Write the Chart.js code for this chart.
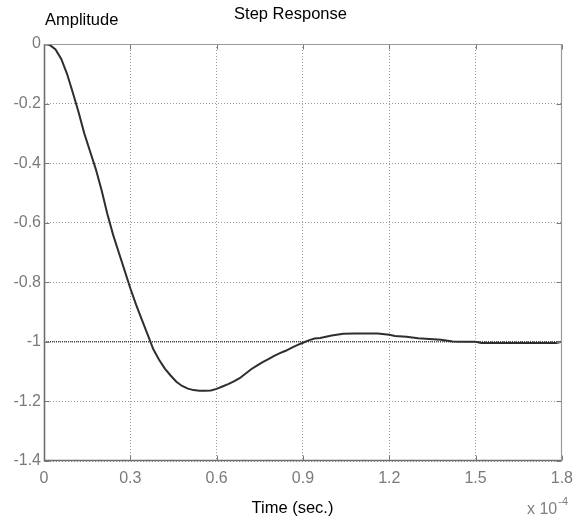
<!DOCTYPE html>
<html>
<head>
<meta charset="utf-8">
<script src="https://cdn.jsdelivr.net/npm/chart.js@4/dist/chart.umd.min.js"></script>
<style>
  html, body { margin: 0; padding: 0; background: #fff; }
  #wrap { width: 581px; height: 520px; position: relative; }
</style>
</head>
<body>
<div id="wrap"><canvas id="c" width="581" height="520"></canvas></div>
<script>
// ---- data (time in units of 1e-4 s) ----
const timeValues = [0, 0.02, 0.04, 0.06, 0.08, 0.10, 0.12, 0.14, 0.16, 0.18, 0.20, 0.22, 0.24, 0.26, 0.28, 0.30, 0.32, 0.34, 0.36, 0.38, 0.40, 0.42, 0.44, 0.46, 0.48, 0.50, 0.52, 0.54, 0.56, 0.58, 0.60, 0.62, 0.64, 0.66, 0.68, 0.70, 0.72, 0.74, 0.76, 0.78, 0.80, 0.82, 0.84, 0.86, 0.88, 0.90, 0.92, 0.94, 0.96, 0.98, 1.00, 1.04, 1.08, 1.12, 1.16, 1.20, 1.22, 1.26, 1.30, 1.34, 1.38, 1.42, 1.46, 1.50, 1.52, 1.60, 1.70, 1.78, 1.80];
const amplitudeValues = [0, -0.003, -0.018, -0.05, -0.10, -0.163, -0.228, -0.30, -0.36, -0.42, -0.49, -0.57, -0.64, -0.70, -0.76, -0.82, -0.875, -0.925, -0.975, -1.025, -1.06, -1.09, -1.113, -1.134, -1.148, -1.157, -1.162, -1.164, -1.164, -1.163, -1.158, -1.150, -1.142, -1.133, -1.122, -1.107, -1.092, -1.080, -1.068, -1.058, -1.047, -1.038, -1.030, -1.020, -1.011, -1.003, -0.995, -0.989, -0.987, -0.983, -0.979, -0.973, -0.972, -0.972, -0.972, -0.976, -0.980, -0.983, -0.988, -0.990, -0.993, -0.999, -1.0, -1.0, -1.004, -1.004, -1.004, -1.004, -1.0];
const steadyStateLevel = -1;
const xTickValues = [0, 0.3, 0.6, 0.9, 1.2, 1.5, 1.8];
const xTickLabels = ['0', '0.3', '0.6', '0.9', '1.2', '1.5', '1.8'];
const yTickValues = [0, -0.2, -0.4, -0.6, -0.8, -1, -1.2, -1.4];
const yTickLabels = ['0', '-0.2', '-0.4', '-0.6', '-0.8', '-1', '-1.2', '-1.4'];
const chartTitle = 'Step Response';
const yTitle = 'Amplitude';
const xTitle = 'Time (sec.)';
const xExponentBase = 'x 10';
const xExponent = '-4';

const FONT = '"Liberation Sans", Arial, Helvetica, sans-serif';
const FS = 16.5;
const TFS = 16;

const responsePoints = timeValues.map((t, i) => ({ x: t, y: amplitudeValues[i] }));
const refPoints = [{ x: xTickValues[0], y: steadyStateLevel }, { x: xTickValues[xTickValues.length - 1], y: steadyStateLevel }];

const framePlugin = {
  id: 'frame',
  afterDraw(chart) {
    const ctx = chart.ctx;
    const a = chart.chartArea;
    const xs = chart.scales.x, ys = chart.scales.y;
    const L = Math.round(a.left) + 0.5, R = Math.round(a.right) - 0.5;
    const T = Math.round(a.top) + 0.5, B = Math.round(a.bottom) - 0.5;
    ctx.save();
    ctx.strokeStyle = '#7a7a7a';
    ctx.lineWidth = 1;
    ctx.beginPath();
    xTickValues.forEach(v => {
      const px = Math.round(xs.getPixelForValue(v)) + 0.5;
      ctx.moveTo(px, B); ctx.lineTo(px, B - 5);
      ctx.moveTo(px, T); ctx.lineTo(px, T + 5);
    });
    yTickValues.forEach(v => {
      const py = Math.round(ys.getPixelForValue(v)) + 0.5;
      ctx.moveTo(L, py); ctx.lineTo(L + 5, py);
      ctx.moveTo(R, py); ctx.lineTo(R - 5, py);
    });
    ctx.stroke();
    ctx.strokeStyle = '#9a9a9a';
    ctx.lineWidth = 1.2;
    ctx.beginPath();
    ctx.moveTo(L, T); ctx.lineTo(R, T); ctx.lineTo(R, B);
    ctx.stroke();
    ctx.strokeStyle = '#6e6e6e';
    ctx.lineWidth = 1.6;
    ctx.beginPath();
    ctx.moveTo(L, T); ctx.lineTo(L, B); ctx.lineTo(R, B);
    ctx.stroke();

    ctx.fillStyle = '#000';
    ctx.font = FS + 'px ' + FONT;
    ctx.textBaseline = 'alphabetic';
    ctx.textAlign = 'left';
    ctx.fillText(yTitle, 45, 25);
    ctx.textAlign = 'center';
    ctx.fillText(chartTitle, 290.5, 18.5);
    ctx.fillText(xTitle, 292.5, 513);
    ctx.fillStyle = '#808080';
    ctx.textAlign = 'left';
    ctx.font = TFS + 'px ' + FONT;
    const baseW = ctx.measureText(xExponentBase).width;
    const bx = 527;
    ctx.fillText(xExponentBase, bx, 514);
    ctx.font = '11px ' + FONT;
    ctx.fillText(xExponent, bx + baseW + 1, 505);
    ctx.restore();
  }
};

new Chart(document.getElementById('c'), {
  type: 'line',
  data: {
    datasets: [
      {
        data: responsePoints,
        borderColor: '#2e2e2e',
        borderWidth: 2,
        pointRadius: 0,
        tension: 0,
        fill: false,
        order: 1
      },
      {
        data: refPoints,
        borderColor: '#000',
        borderWidth: 1,
        borderDash: [1, 1],
        pointRadius: 0,
        fill: false,
        order: 2
      }
    ]
  },
  options: {
    responsive: false,
    animation: false,
    devicePixelRatio: 1,
    layout: { padding: { left: 0, right: 14, top: 44, bottom: 0 } },
    plugins: { legend: { display: false }, tooltip: { enabled: false }, title: { display: false } },
    scales: {
      x: {
        type: 'linear',
        min: 0,
        max: 1.8,
        afterBuildTicks: s => { s.ticks = xTickValues.map(v => ({ value: v })); },
        afterFit: s => { s.height = 59; },
        grid: { color: '#9a9a9a', lineWidth: 1, drawTicks: false },
        border: { display: false, dash: [1, 2] },
        ticks: {
          padding: 8,
          color: '#7a7a7a',
          font: { family: FONT, size: TFS },
          maxRotation: 0,
          callback: (v) => { const i = xTickValues.findIndex(t => Math.abs(t - v) < 1e-9); return i >= 0 ? xTickLabels[i] : ''; }
        }
      },
      y: {
        type: 'linear',
        min: -1.4,
        max: 0,
        afterBuildTicks: s => { s.ticks = yTickValues.map(v => ({ value: v })); },
        afterFit: s => { s.width = 44; },
        grid: { color: '#9a9a9a', lineWidth: 1, drawTicks: false },
        border: { display: false, dash: [1, 2] },
        ticks: {
          padding: 3,
          color: '#7a7a7a',
          font: { family: FONT, size: TFS },
          callback: (v) => { const i = yTickValues.findIndex(t => Math.abs(t - v) < 1e-9); return i >= 0 ? yTickLabels[i] : ''; }
        }
      }
    }
  },
  plugins: [framePlugin]
});
</script>
</body>
</html>
